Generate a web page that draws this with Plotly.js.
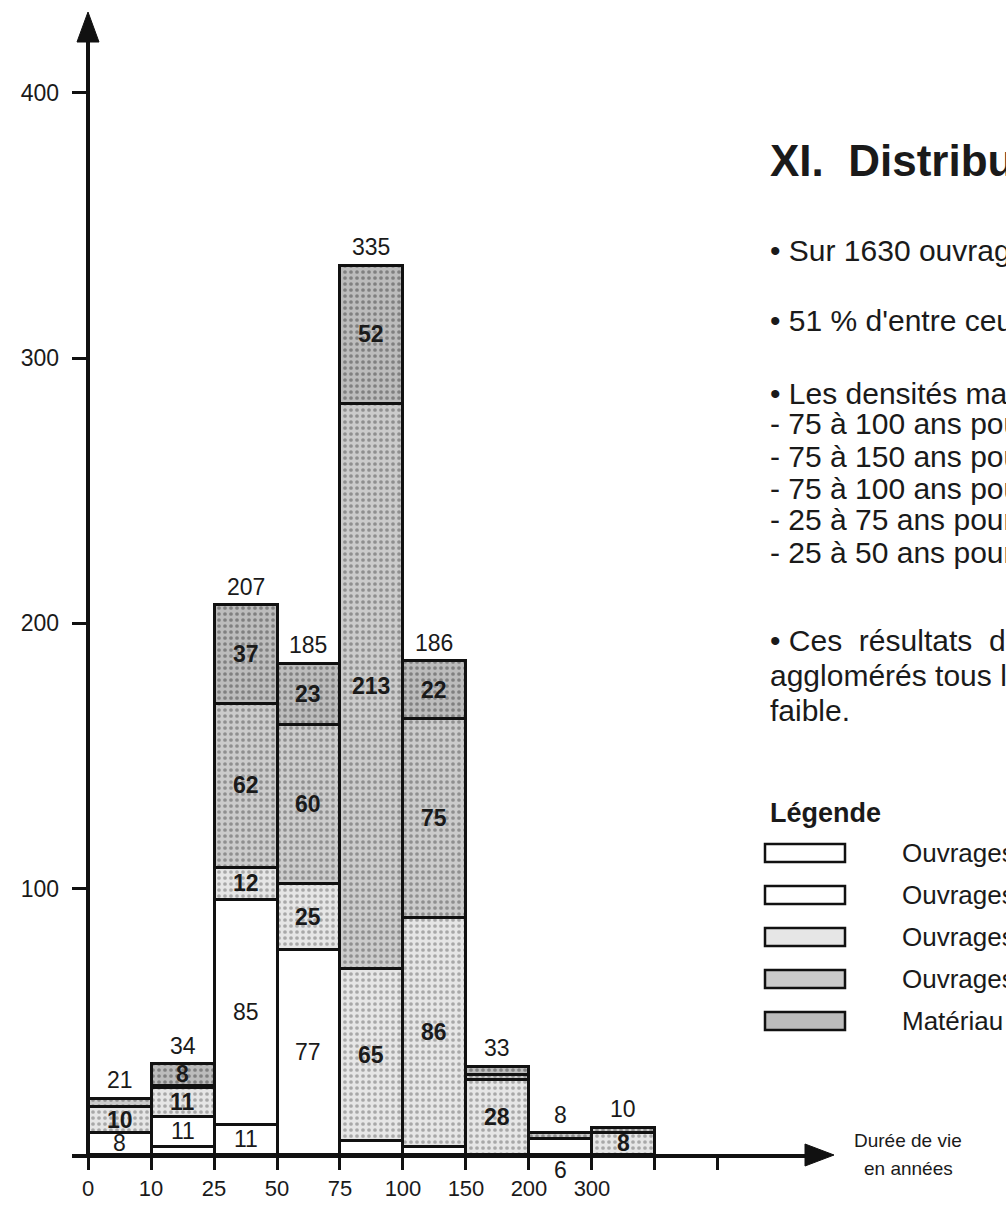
<!DOCTYPE html>
<html>
<head>
<meta charset="utf-8">
<script src="https://cdn.plot.ly/plotly-3.0.1.min.js"></script>
<style>body{margin:0;background:#fff}</style>
</head>
<body>
<div id="myDiv" style="width:1006px;height:1210px"></div>
<script>
// classes de durée de vie (années)
var bins = ['0-10', '10-25', '25-50', '50-75', '75-100', '100-150', '150-200', '200-300', '300+'];
var tickLabels = ['0', '10', '25', '50', '75', '100', '150', '200', '300'];

// nombre d'ouvrages par catégorie, empilés du bas vers le haut
var cat1 = [0, 3, 11, 0, 5, 3, 0, 6, 0];
var cat2 = [8, 11, 85, 77, 0, 0, 0, 0, 0];
var cat3 = [10, 11, 12, 25, 65, 86, 28, 0, 8];
var cat4 = [3, 1, 62, 60, 213, 75, 2, 2, 2];
var cat5 = [0, 8, 37, 23, 52, 22, 3, 0, 0];

var legendLabels = ['Ouvrages', 'Ouvrages', 'Ouvrages', 'Ouvrages', 'Matériau'];

var textLines = [
  {t: '• Sur 1630 ouvrag', y: 250},
  {t: '• 51 % d\'entre ceu', y: 320},
  {t: '• Les densités ma', y: 393},
  {t: '- 75 à 100 ans pou', y: 424},
  {t: '- 75 à 150 ans pou', y: 456},
  {t: '- 75 à 100 ans pou', y: 488},
  {t: '- 25 à 75 ans pour', y: 520},
  {t: '- 25 à 50 ans pour', y: 552},
  {t: '•\u00a0Ces\u00a0\u00a0résultats\u00a0\u00a0de', y: 640},
  {t: 'agglomérés tous l', y: 675},
  {t: 'faible.', y: 710}
];

var cats = [cat1, cat2, cat3, cat4, cat5];
var fills = ['#ffffff', '#ffffff', '#e6e6e6', '#cbcbcb', '#bcbcbc'];
var dots = ['', '', '#a8a8a8', '#8f8f8f', '#808080'];
var font = 'Liberation Sans, Arial, sans-serif';
var ink = '#1a1a1a';

// pixel -> paper helpers (plot area: left 72, width 743, bottom 1154, height 1149)
function pxX(p) { return (p - 72) / 743; }
function pxY(p) { return (1154 - p) / 1149; }

var xMid = bins.map(function(b, i) { return i + 0.5; });

var data = cats.map(function(c, i) {
  var m = {color: fills[i], line: {color: '#111', width: 3}};
  if (dots[i]) {
    m.pattern = {shape: '.', fgcolor: dots[i], bgcolor: fills[i], size: 6, solidity: 0.3};
  }
  return {type: 'bar', x: xMid, y: c, width: 1, marker: m, hoverinfo: 'skip', showlegend: false};
});

var annotations = [];
var numFont = {family: font, size: 23, color: ink};

// labels inside segments + totals
bins.forEach(function(b, j) {
  var base = 0;
  cats.forEach(function(c, i) {
    var v = c[j];
    if (v >= 8) {
      annotations.push({
        x: xMid[j], y: base + v / 2, xref: 'x', yref: 'y', showarrow: false,
        text: i >= 2 ? '<b>' + v + '</b>' : String(v), font: numFont
      });
    } else if (v >= 6) {
      annotations.push({
        x: xMid[j], y: 0, xref: 'x', yref: 'y', showarrow: false, yanchor: 'top', yshift: -1,
        text: String(v), font: numFont
      });
    }
    base += v;
  });
  annotations.push({
    x: xMid[j], y: base, xref: 'x', yref: 'y', showarrow: false, yanchor: 'bottom', yshift: 3,
    text: String(base), font: numFont
  });
});

// texte de droite
annotations.push({
  x: pxX(768), y: pxY(160), xref: 'paper', yref: 'paper', xanchor: 'left', yanchor: 'middle',
  showarrow: false, text: '<b>XI.  Distribu</b>', font: {family: font, size: 44, color: ink}
});
textLines.forEach(function(l) {
  annotations.push({
    x: pxX(768), y: pxY(l.y), xref: 'paper', yref: 'paper', xanchor: 'left', yanchor: 'middle',
    showarrow: false, text: l.t, font: {family: font, size: 30, color: ink}
  });
});
annotations.push({
  x: pxX(768), y: pxY(813), xref: 'paper', yref: 'paper', xanchor: 'left', yanchor: 'middle',
  showarrow: false, text: '<b>Légende</b>', font: {family: font, size: 27, color: ink}
});

var shapes = [
  // axe vertical + flèches
  {type: 'line', xref: 'x', yref: 'y', x0: 0, x1: 0, y0: 0, y1: 420, line: {color: '#111', width: 4}},
  {type: 'path', xref: 'paper', yref: 'paper', fillcolor: '#111', line: {color: '#111', width: 1},
   path: 'M' + pxX(88) + ',' + pxY(12) + ' L' + pxX(77) + ',' + pxY(42) + ' L' + pxX(99) + ',' + pxY(42) + ' Z'},
  {type: 'path', xref: 'paper', yref: 'paper', fillcolor: '#111', line: {color: '#111', width: 1},
   path: 'M' + pxX(834) + ',' + pxY(1155) + ' L' + pxX(805) + ',' + pxY(1144) + ' L' + pxX(805) + ',' + pxY(1166) + ' Z'}
];

legendLabels.forEach(function(lab, i) {
  var yc = 853 + i * 42;
  shapes.push({
    type: 'rect', xref: 'paper', yref: 'paper',
    x0: pxX(765), x1: pxX(845), y0: pxY(yc + 9), y1: pxY(yc - 9),
    fillcolor: fills[i], line: {color: '#111', width: 2.5}
  });
  annotations.push({
    x: pxX(900), y: pxY(yc), xref: 'paper', yref: 'paper', xanchor: 'left', yanchor: 'middle',
    showarrow: false, text: lab, font: {family: font, size: 26, color: ink}
  });
});

annotations.push({
  x: pxX(852), y: pxY(1140), xref: 'paper', yref: 'paper', xanchor: 'left', yanchor: 'middle',
  showarrow: false, text: 'Durée de vie', font: {family: font, size: 19, color: ink}
});
annotations.push({
  x: pxX(862), y: pxY(1168), xref: 'paper', yref: 'paper', xanchor: 'left', yanchor: 'middle',
  showarrow: false, text: 'en années', font: {family: font, size: 19, color: ink}
});

var layout = {
  width: 1006,
  height: 1210,
  margin: {l: 72, r: 191, t: 5, b: 56},
  paper_bgcolor: '#fff',
  plot_bgcolor: 'rgba(0,0,0,0)',
  barmode: 'stack',
  bargap: 0,
  showlegend: false,
  font: {family: font, color: ink},
  xaxis: {
    range: [-0.254, 11.54],
    showgrid: false, zeroline: false,
    showline: true, linecolor: '#111', linewidth: 4,
    ticks: 'outside', ticklen: 12, tickwidth: 3, tickcolor: '#111',
    tickvals: [0, 1, 2, 3, 4, 5, 6, 7, 8, 9, 10],
    ticktext: tickLabels.concat(['', '']),
    tickfont: {family: font, size: 22, color: ink}
  },
  yaxis: {
    range: [0, 433.1],
    showgrid: false, zeroline: false, showline: false,
    ticks: 'inside', ticklen: 16, tickwidth: 3, tickcolor: '#111',
    tickvals: [100, 200, 300, 400],
    ticklabelstandoff: 12,
    tickfont: {family: font, size: 23, color: ink}
  },
  annotations: annotations,
  shapes: shapes
};

Plotly.newPlot('myDiv', data, layout, {staticPlot: true});
</script>
</body>
</html>
